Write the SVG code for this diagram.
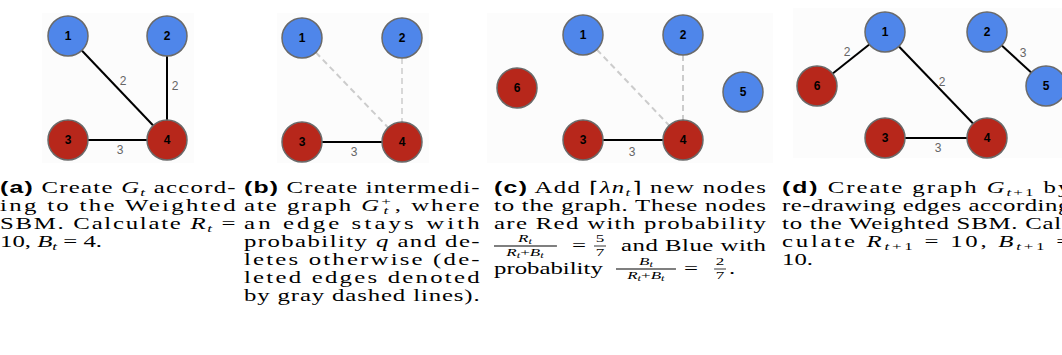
<svg xmlns="http://www.w3.org/2000/svg" width="1062" height="355" viewBox="0 0 1062 355">
<style>
.bg{fill:#fcfcfc}
.nb{fill:#4f86ea;stroke:#6a6a6a;stroke-width:1.5}
.nr{fill:#b7271b;stroke:#6a6a6a;stroke-width:1.5}
.nl{font-family:"Liberation Sans",Arial,sans-serif;font-size:12px;font-weight:bold;fill:#000;text-anchor:middle}
.e{stroke:#000;stroke-width:2;fill:none}
.d{stroke:#cccccc;stroke-width:2;stroke-dasharray:6,4;fill:none}
.el{font-family:"Liberation Sans",Arial,sans-serif;font-size:12px;fill:#666;text-anchor:middle}
.cap{font-family:"Liberation Serif","Times New Roman",serif;font-size:16px;fill:#000}
.lab{font-family:"Liberation Sans",Arial,sans-serif;font-weight:bold}
.i{font-style:italic}
.s{font-size:11px}
.fr{font-family:"Liberation Serif","Times New Roman",serif;font-size:11px;fill:#000;text-anchor:middle}
.bar{stroke:#000;stroke-width:0.8}
</style>
<rect class="bg" x="42" y="13" width="152" height="150"/>
<rect class="bg" x="277" y="13" width="152" height="150"/>
<rect class="bg" x="487" y="13" width="286" height="150"/>
<rect class="bg" x="793" y="8" width="269" height="150"/>
<g id="connectors">
<line class="e" x1="68" y1="36" x2="167" y2="140"/>
<line class="e" x1="167" y1="36" x2="167" y2="140"/>
<line class="e" x1="68" y1="140" x2="167" y2="140"/>
<line class="d" x1="302" y1="38" x2="402" y2="142"/>
<line class="d" x1="402" y1="38" x2="402" y2="142" style="stroke-width:1.5"/>
<line class="e" x1="302" y1="142" x2="402" y2="142"/>
<line class="d" x1="583" y1="35" x2="683" y2="140"/>
<line class="d" x1="683" y1="35" x2="683" y2="140"/>
<line class="e" x1="583" y1="140" x2="683" y2="140"/>
<line class="e" x1="885" y1="32" x2="817" y2="86"/>
<line class="e" x1="885" y1="32" x2="987" y2="138"/>
<line class="e" x1="885" y1="138" x2="987" y2="138"/>
<line class="e" x1="987" y1="32" x2="1046" y2="86"/>
<text class="el" x="123" y="85">2</text>
<text class="el" x="175" y="90">2</text>
<text class="el" x="120" y="154">3</text>
<text class="el" x="354" y="156">3</text>
<text class="el" x="632" y="156">3</text>
<text class="el" x="847" y="56">2</text>
<text class="el" x="1023" y="57">3</text>
<text class="el" x="942" y="86">2</text>
<text class="el" x="938" y="152">3</text>
</g>
<g id="a-n1"><circle class="nb" cx="68" cy="36" r="20"/><text class="nl" x="68" y="40">1</text></g>
<g id="a-n2"><circle class="nb" cx="167" cy="36" r="20"/><text class="nl" x="167" y="40">2</text></g>
<g id="a-n3"><circle class="nr" cx="68" cy="140" r="20"/><text class="nl" x="68" y="144">3</text></g>
<g id="a-n4"><circle class="nr" cx="167" cy="140" r="20"/><text class="nl" x="167" y="144">4</text></g>
<g id="b-n1"><circle class="nb" cx="302" cy="38" r="20"/><text class="nl" x="302" y="42">1</text></g>
<g id="b-n2"><circle class="nb" cx="402" cy="38" r="20"/><text class="nl" x="402" y="42">2</text></g>
<g id="b-n3"><circle class="nr" cx="302" cy="142" r="20"/><text class="nl" x="302" y="146">3</text></g>
<g id="b-n4"><circle class="nr" cx="402" cy="142" r="20"/><text class="nl" x="402" y="146">4</text></g>
<g id="c-n1"><circle class="nb" cx="583" cy="35" r="20"/><text class="nl" x="583" y="39">1</text></g>
<g id="c-n2"><circle class="nb" cx="683" cy="35" r="20"/><text class="nl" x="683" y="39">2</text></g>
<g id="c-n3"><circle class="nr" cx="583" cy="140" r="20"/><text class="nl" x="583" y="144">3</text></g>
<g id="c-n4"><circle class="nr" cx="683" cy="140" r="20"/><text class="nl" x="683" y="144">4</text></g>
<g id="c-n5"><circle class="nb" cx="743" cy="92" r="20"/><text class="nl" x="743" y="96">5</text></g>
<g id="c-n6"><circle class="nr" cx="517" cy="88" r="20"/><text class="nl" x="517" y="92">6</text></g>
<g id="d-n1"><circle class="nb" cx="885" cy="32" r="20"/><text class="nl" x="885" y="36">1</text></g>
<g id="d-n2"><circle class="nb" cx="987" cy="32" r="20"/><text class="nl" x="987" y="36">2</text></g>
<g id="d-n3"><circle class="nr" cx="885" cy="138" r="20"/><text class="nl" x="885" y="142">3</text></g>
<g id="d-n4"><circle class="nr" cx="987" cy="138" r="20"/><text class="nl" x="987" y="142">4</text></g>
<g id="d-n5"><circle class="nb" cx="1046" cy="86" r="20"/><text class="nl" x="1046" y="90">5</text></g>
<g id="d-n6"><circle class="nr" cx="817" cy="86" r="20"/><text class="nl" x="817" y="90">6</text></g>
<g id="caption-a" class="cap" transform="translate(0,0) scale(1.55,1)">
<text x="0" y="193" textLength="152" lengthAdjust="spacing"><tspan class="lab">(a)</tspan> Create <tspan class="i">G</tspan><tspan class="i s" dy="3">t</tspan><tspan dy="-3"> accord-</tspan></text>
<text x="0" y="211" textLength="152" lengthAdjust="spacing">ing to the Weighted</text>
<text x="0" y="229" textLength="152" lengthAdjust="spacing">SBM. Calculate <tspan class="i">R</tspan><tspan class="i s" dy="3">t</tspan><tspan dy="-3"> =</tspan></text>
<text x="0" y="247">10, <tspan class="i">B</tspan><tspan class="i s" dy="3">t</tspan><tspan dy="-3"> = 4.</tspan></text>
</g>
<g id="caption-b" class="cap" transform="translate(244,0) scale(1.55,1)">
<text x="0" y="193" textLength="152" lengthAdjust="spacing"><tspan class="lab">(b)</tspan> Create intermedi-</text>
<text x="0" y="211" textLength="152" lengthAdjust="spacing">ate graph <tspan class="i">G</tspan><tspan class="s" dy="-6">+</tspan><tspan class="i s" dx="-6" dy="9">t</tspan><tspan dx="3" dy="-3">, where</tspan></text>
<text x="0" y="229" textLength="152" lengthAdjust="spacing">an edge stays with</text>
<text x="0" y="247" textLength="152" lengthAdjust="spacing">probability <tspan class="i">q</tspan> and de-</text>
<text x="0" y="265" textLength="152" lengthAdjust="spacing">letes otherwise (de-</text>
<text x="0" y="283" textLength="152" lengthAdjust="spacing">leted edges denoted</text>
<text x="0" y="301" textLength="152" lengthAdjust="spacing">by gray dashed lines).</text>
</g>
<g id="caption-c" class="cap" transform="translate(494,0) scale(1.55,1)">
<text x="0" y="193" textLength="175.5" lengthAdjust="spacing"><tspan class="lab">(c)</tspan> Add ⌈<tspan class="i">λn</tspan><tspan class="i s" dy="3">t</tspan><tspan dy="-3">⌉ new nodes</tspan></text>
<text x="0" y="211" textLength="175.5" lengthAdjust="spacing">to the graph. These nodes</text>
<text x="0" y="229" textLength="175.5" lengthAdjust="spacing">are Red with probability</text>
<text class="fr" x="20" y="242"><tspan class="i">R</tspan><tspan class="i" font-size="8" dy="2">t</tspan></text>
<line class="bar" x1="0" y1="246" x2="40.6" y2="246"/>
<text class="fr" x="20" y="256.5"><tspan class="i">R</tspan><tspan class="i" font-size="8" dy="2">t</tspan><tspan dy="-2">+</tspan><tspan class="i">B</tspan><tspan class="i" font-size="8" dy="2">t</tspan></text>
<text x="50.3" y="251">=</text>
<text class="fr" x="68.4" y="242">5</text>
<line class="bar" x1="64.5" y1="246" x2="72.3" y2="246"/>
<text class="fr" x="68.4" y="256">7</text>
<text x="82" y="251" textLength="93.5" lengthAdjust="spacing">and Blue with</text>
<text x="0" y="274">probability</text>
<text class="fr" x="98" y="265"><tspan class="i">B</tspan><tspan class="i" font-size="8" dy="2">t</tspan></text>
<line class="bar" x1="78.7" y1="269" x2="117.4" y2="269"/>
<text class="fr" x="98" y="279.5"><tspan class="i">R</tspan><tspan class="i" font-size="8" dy="2">t</tspan><tspan dy="-2">+</tspan><tspan class="i">B</tspan><tspan class="i" font-size="8" dy="2">t</tspan></text>
<text x="122.6" y="274">=</text>
<text class="fr" x="145.8" y="265">2</text>
<line class="bar" x1="142" y1="269" x2="149.7" y2="269"/>
<text class="fr" x="145.8" y="279">7</text>
<text x="151.6" y="274">.</text>
</g>
<g id="caption-d" class="cap" transform="translate(782,0) scale(1.55,1)">
<text x="0" y="193" textLength="186" lengthAdjust="spacing"><tspan class="lab">(d)</tspan> Create graph <tspan class="i">G</tspan><tspan class="s" dy="3"><tspan class="i">t</tspan>+1</tspan><tspan dy="-3"> by</tspan></text>
<text x="0" y="211" textLength="186" lengthAdjust="spacing">re-drawing edges according</text>
<text x="0" y="229" textLength="186" lengthAdjust="spacing">to the Weighted SBM. Cal-</text>
<text x="0" y="247" textLength="186" lengthAdjust="spacing">culate <tspan class="i">R</tspan><tspan class="s" dy="3"><tspan class="i">t</tspan>+1</tspan><tspan dy="-3"> = 10, </tspan><tspan class="i">B</tspan><tspan class="s" dy="3"><tspan class="i">t</tspan>+1</tspan><tspan dy="-3"> =</tspan></text>
<text x="0" y="265">10.</text>
</g>
</svg>
